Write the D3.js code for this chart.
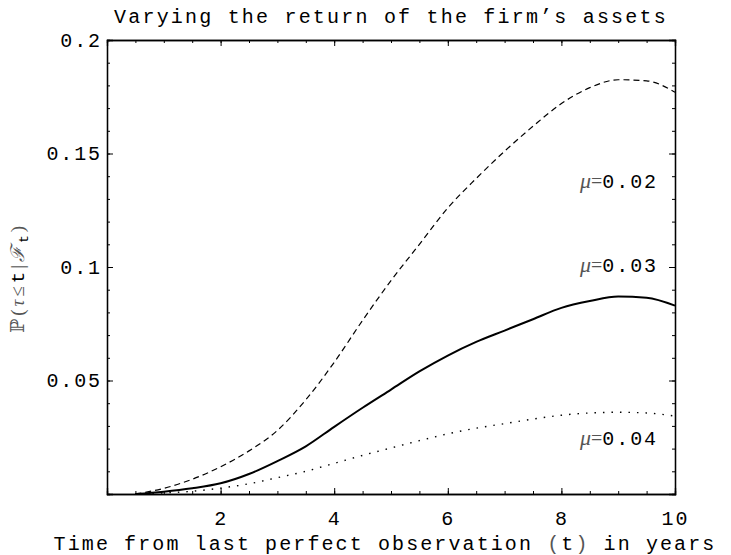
<!DOCTYPE html>
<html>
<head>
<meta charset="utf-8">
<script src="https://cdn.jsdelivr.net/npm/d3@7"></script>
<style>
  body { margin: 0; background: #fff; }
  svg { display: block; }
  .mono { font-family: "Liberation Mono", "DejaVu Sans Mono", monospace; }
  .serif { font-family: "Liberation Serif", "DejaVu Serif", serif; }
</style>
</head>
<body>
<div id="chart"></div>
<script>
// Years since the last perfect observation
const years = [0.5, 1, 1.5, 2, 2.5, 3, 3.5, 4, 4.5, 5, 5.5, 6, 6.5, 7, 7.5, 8, 8.5, 9, 9.5, 10];

// Default probability for each asset return mu
const probMu002 = [0, 0.0025, 0.0065, 0.012, 0.019, 0.028, 0.0415, 0.058, 0.0765, 0.094, 0.110, 0.126, 0.139, 0.151, 0.162, 0.172, 0.179, 0.1825, 0.182, 0.177];
const probMu003 = [0, 0.001, 0.0025, 0.0047, 0.0088, 0.0145, 0.021, 0.0296, 0.038, 0.046, 0.054, 0.061, 0.067, 0.072, 0.077, 0.082, 0.085, 0.087, 0.0865, 0.083];
const probMu004 = [0, 0.0005, 0.0012, 0.0026, 0.0045, 0.0072, 0.010, 0.0135, 0.017, 0.0203, 0.0235, 0.0265, 0.029, 0.031, 0.033, 0.0347, 0.0357, 0.036, 0.0357, 0.0343];

const muLabels = ['0.02', '0.03', '0.04'];
const xTicks = [2, 4, 6, 8, 10];
const yTicks = [0.05, 0.1, 0.15, 0.2];

const width = 731;
const height = 555;
const margin = { top: 40, right: 56, bottom: 61, left: 107 };
const fontSize = 20;
const spacing = 1.9;

const svg = d3.select('#chart')
  .append('svg')
    .attr('width', width)
    .attr('height', height);

const x = d3.scaleLinear()
    .domain([0, 10])
    .range([margin.left, width - margin.right]);

const y = d3.scaleLinear()
    .domain([0, 0.2])
    .range([height - margin.bottom, margin.top]);

// Minor ticks every 0.5 year and every 0.01
const xMinor = d3.range(0, 10.01, 0.5);
const yMinor = d3.range(0, 0.2001, 0.01);

function frameAxis(axis, ticks, size) {
  return axis.tickValues(ticks).tickSize(-size).tickFormat('');
}

// Bottom axis with inward ticks
const bottomAxis = svg.append('g')
    .attr('transform', `translate(0,${y(0)})`);
bottomAxis.call(frameAxis(d3.axisBottom(x), xMinor, 3));
bottomAxis.append('g').call(d3.axisBottom(x).tickValues(xTicks).tickSize(-6).tickPadding(17).tickFormat(d3.format('d')));

const topAxis = svg.append('g')
    .attr('transform', `translate(0,${y(0.2)})`);
topAxis.call(frameAxis(d3.axisTop(x), xMinor, 3));
topAxis.append('g').call(frameAxis(d3.axisTop(x), xTicks, 6));

const leftAxis = svg.append('g')
    .attr('transform', `translate(${x(0)},0)`);
leftAxis.call(frameAxis(d3.axisLeft(y), yMinor, 3));
leftAxis.append('g').call(d3.axisLeft(y).tickValues(yTicks).tickSize(-6).tickPadding(5).tickFormat(d => d3.format('')(+d.toFixed(2))));

const rightAxis = svg.append('g')
    .attr('transform', `translate(${x(10)},0)`);
rightAxis.call(frameAxis(d3.axisRight(y), yMinor, 3));
rightAxis.append('g').call(frameAxis(d3.axisRight(y), yTicks, 6));

svg.selectAll('.domain')
    .attr('stroke', '#000')
    .attr('stroke-width', 1.3);
svg.selectAll('.tick line')
    .attr('stroke', '#000')
    .attr('stroke-width', 1);
svg.selectAll('.tick text')
    .attr('class', 'mono')
    .attr('font-size', fontSize)
    .attr('letter-spacing', spacing)
    .attr('fill', '#000');

// Curves
const series = [
  { values: probMu002, width: 1.2, dash: '6,4' },
  { values: probMu003, width: 2, dash: null },
  { values: probMu004, width: 1.4, dash: '1.5,7' }
];

const line = d3.line()
    .x(d => x(d[0]))
    .y(d => y(d[1]))
    .curve(d3.curveMonotoneX);

svg.selectAll('.curve')
  .data(series)
  .join('path')
    .attr('class', 'curve')
    .attr('d', s => line(years.map((t, i) => [t, s.values[i]])))
    .attr('fill', 'none')
    .attr('stroke', '#000')
    .attr('stroke-width', s => s.width)
    .attr('stroke-dasharray', s => s.dash);

// mu labels
const labelY = [0.137, 0.1, 0.0237];
const muText = svg.selectAll('.mu')
  .data(muLabels)
  .join('text')
    .attr('class', 'mu')
    .attr('x', x(9.7))
    .attr('y', (d, i) => y(labelY[i]))
    .attr('text-anchor', 'end')
    .attr('dominant-baseline', 'middle');
muText.append('tspan')
    .attr('class', 'serif')
    .attr('font-style', 'italic')
    .attr('font-size', 22)
    .attr('fill', '#555')
    .text('μ');
muText.append('tspan')
    .attr('class', 'serif')
    .attr('font-size', 20)
    .attr('fill', '#555')
    .text('=');
muText.append('tspan')
    .attr('class', 'mono')
    .attr('font-size', fontSize)
    .attr('letter-spacing', spacing)
    .attr('fill', '#000')
    .text(d => d);

// Title
svg.append('text')
    .attr('class', 'mono')
    .attr('x', (x(0) + x(10)) / 2)
    .attr('y', 23)
    .attr('text-anchor', 'middle')
    .attr('font-size', fontSize)
    .attr('letter-spacing', 2.2)
    .text('Varying the return of the firm\u2019s assets');

// X axis title
const xTitle = svg.append('text')
    .attr('class', 'mono')
    .attr('x', 385)
    .attr('y', 550)
    .attr('text-anchor', 'middle')
    .attr('font-size', fontSize)
    .attr('letter-spacing', 2.1);
xTitle.append('tspan').text('Time from last perfect observation ');
xTitle.append('tspan').attr('fill', '#555').text('(');
xTitle.append('tspan').text('t');
xTitle.append('tspan').attr('fill', '#555').text(')');
xTitle.append('tspan').text(' in years');

// Y axis title
const yTitle = svg.append('text')
    .attr('transform', `translate(24,${(y(0) + y(0.2)) / 2 + 11}) rotate(-90)`)
    .attr('text-anchor', 'middle')
    .attr('font-size', 19)
    .attr('letter-spacing', 3);
yTitle.append('tspan').attr('class', 'serif').attr('fill', '#555').text('ℙ(');
yTitle.append('tspan').attr('class', 'serif').attr('font-style', 'italic').attr('fill', '#555').text('τ');
yTitle.append('tspan').attr('class', 'serif').attr('fill', '#555').text('≤');
yTitle.append('tspan').attr('class', 'mono').attr('fill', '#000').text('t');
yTitle.append('tspan').attr('class', 'serif').attr('fill', '#000').text('|');
yTitle.append('tspan').attr('class', 'serif').attr('font-style', 'italic').attr('fill', '#555').text('ℱ');
yTitle.append('tspan').attr('class', 'mono').attr('font-size', 13).attr('dy', 4).attr('fill', '#000').text('t');
yTitle.append('tspan').attr('class', 'serif').attr('dy', -4).attr('fill', '#555').text(')');
</script>
</body>
</html>
